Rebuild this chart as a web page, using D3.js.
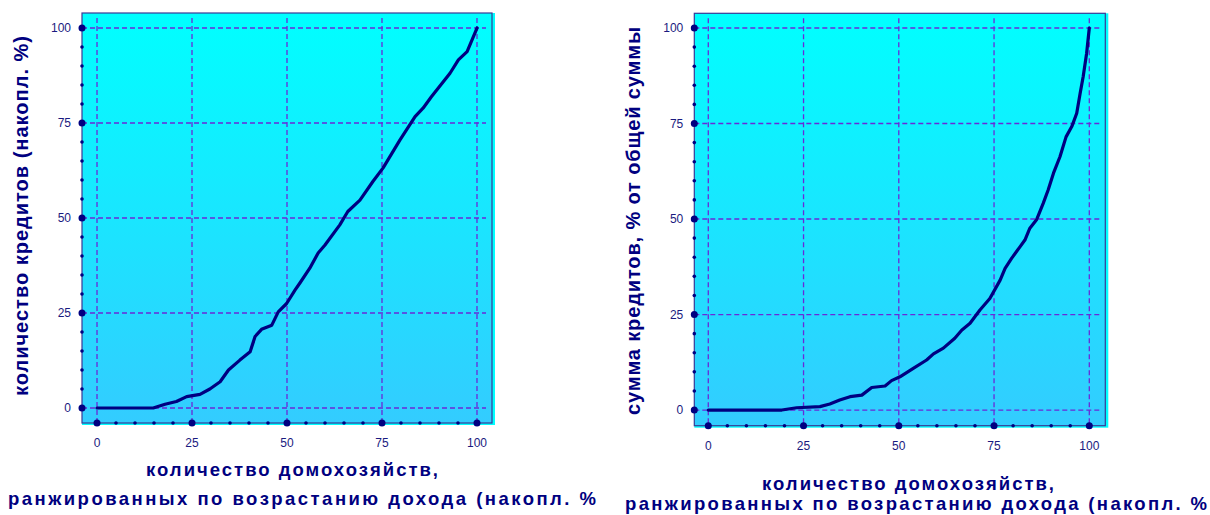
<!DOCTYPE html>
<html>
<head>
<meta charset="utf-8">
<script src="https://cdn.jsdelivr.net/npm/d3@7"></script>
<style>
  html, body { margin: 0; padding: 0; background: #ffffff; }
  svg { display: block; }
  text { font-family: "Liberation Sans", Arial, sans-serif; }
</style>
</head>
<body>
<svg id="chart" width="1210" height="515"></svg>
<script>
// ---- data ----
const tickValues = [0, 25, 50, 75, 100];
const minorTickValues = d3.range(0, 101, 5);

// cumulative share of households (x) vs cumulative count of credits (y)
const countX = [0, 14.8, 17.9, 20.9, 23.6, 27.1, 29.7, 32.4, 34.6, 37.6, 40.3, 41.6, 43.3, 46, 47.7, 49.9, 52.1, 53.4, 56, 58.2, 60, 63.9, 66, 69.2, 72.6, 75.3, 79.7, 83.7, 85.8, 88, 92.9, 95.1, 97.4, 100];
const countY = [0, 0, 1.0, 1.7, 3.0, 3.6, 5.0, 6.9, 10, 12.6, 14.8, 18.8, 20.7, 21.8, 25.3, 27.5, 31, 32.9, 36.8, 40.8, 42.9, 48.2, 51.7, 54.7, 59.6, 63.2, 70.5, 76.7, 78.9, 81.9, 88.1, 91.6, 93.8, 100];

// cumulative share of households (x) vs cumulative sum of credits (y)
const sumX = [0, 19.3, 23.2, 29.3, 31.9, 34.5, 37.2, 40.3, 42.9, 46.4, 48.1, 50.3, 53.8, 57.3, 59.1, 61.7, 64.7, 66.5, 68.7, 71.3, 73.9, 76.6, 77.9, 79.6, 81.8, 83.1, 84.4, 86.2, 87.9, 89.2, 90.6, 92.3, 93.9, 95.4, 96.7, 97.6, 98.4, 99.3, 100];
const sumY = [0, 0, 0.6, 0.9, 1.6, 2.6, 3.5, 3.9, 5.9, 6.3, 7.7, 8.7, 10.9, 13.1, 14.7, 16.2, 18.8, 20.9, 22.7, 26.2, 29.2, 34, 37.1, 39.7, 42.7, 44.5, 47.6, 49.9, 54.1, 57.6, 62, 66.3, 71.5, 74.2, 77.7, 82.9, 87.3, 93.4, 100];

const yTitles = ["количество кредитов (накопл. %)", "сумма кредитов, % от общей суммы"];
const xTitleLines = ["количество домохозяйств,", "ранжированных по возрастанию дохода (накопл. %"];

// ---- layout ----
const panels = [
  { xs: countX, ys: countY, yTitle: yTitles[0], yTitleLen: 360,
    xDom: [-3.95, 103.95], xRange: [82, 492], yDom: [-3.95, 103.95], yRange: [423, 13],
    yTitleX: 28, yTitleY: 216, xTitleCx: 292, xTitleY1: 476, xTitleY2: 505, line2Start: 8, line2Len: 588 },
  { xs: sumX, ys: sumY, yTitle: yTitles[1], yTitleLen: 388,
    xDom: [-3.67, 104.2], xRange: [694.3, 1105.3], yDom: [-4.1, 103.85], yRange: [425.7, 13.3],
    yTitleX: 640, yTitleY: 221, xTitleCx: 908, xTitleY1: 490, xTitleY2: 510, line2Start: 625, line2Len: 582 }
];

const svg = d3.select("#chart");
const defs = svg.append("defs");
const grad = defs.append("linearGradient").attr("id", "bg").attr("x1", 0).attr("y1", 0).attr("x2", 0).attr("y2", 1);
grad.append("stop").attr("offset", "0%").attr("stop-color", "#00ffff");
grad.append("stop").attr("offset", "100%").attr("stop-color", "#33ccff");

const navy = "#000080";
const textCol = "#1a1a80";
const gridCol = "#6a2ad8";

panels.forEach((p, i) => {
  const x = d3.scaleLinear().domain(p.xDom).range(p.xRange);
  const y = d3.scaleLinear().domain(p.yDom).range(p.yRange);
  const g = svg.append("g");
  const x0 = p.xRange[0], x1 = p.xRange[1], yT = p.yRange[1], yB = p.yRange[0];

  // cyan shadow strip
  g.append("rect").attr("x", x0).attr("y", yT).attr("width", x1 - x0 + 3).attr("height", yB - yT + 2)
    .attr("fill", "#00ffff");
  // plot background
  g.append("rect").attr("x", x0).attr("y", yT).attr("width", x1 - x0).attr("height", yB - yT)
    .attr("fill", "url(#bg)");

  // grid lines
  g.selectAll(".hg").data(tickValues).join("line")
    .attr("x1", x0).attr("x2", x1 - 6)
    .attr("y1", d => y(d)).attr("y2", d => y(d))
    .attr("stroke", gridCol).attr("stroke-width", 1.3).attr("stroke-dasharray", "5,3");
  g.selectAll(".vg").data(tickValues).join("line")
    .attr("x1", d => x(d)).attr("x2", d => x(d))
    .attr("y1", yT + 5).attr("y2", yB)
    .attr("stroke", gridCol).attr("stroke-width", 1.3).attr("stroke-dasharray", "5,3");

  // frame
  g.append("rect").attr("x", x0).attr("y", yT).attr("width", x1 - x0).attr("height", yB - yT)
    .attr("fill", "none").attr("stroke", "#3a3a96").attr("stroke-width", 1.2);

  // curve
  const pts = p.xs.map((v, k) => [v, p.ys[k]]);
  g.append("path").datum(pts)
    .attr("d", d3.line().x(d => x(d[0])).y(d => y(d[1])))
    .attr("fill", "none").attr("stroke", navy).attr("stroke-width", 3.2)
    .attr("stroke-linejoin", "round").attr("stroke-linecap", "round");

  // axis dots (y axis on the left edge, x axis on the bottom edge)
  g.selectAll(".ydot").data(minorTickValues).join("circle")
    .attr("cx", x0).attr("cy", d => y(d))
    .attr("r", d => tickValues.includes(d) ? 3.5 : 1.8).attr("fill", navy);
  g.selectAll(".xdot").data(minorTickValues).join("circle")
    .attr("cx", d => x(d)).attr("cy", yB)
    .attr("r", d => tickValues.includes(d) ? 3.5 : 1.8).attr("fill", navy);

  // tick labels
  g.selectAll(".yl").data(tickValues).join("text")
    .attr("x", x0 - 11).attr("y", d => y(d)).attr("dy", "0.35em")
    .attr("text-anchor", "end").attr("font-size", 12).attr("fill", textCol)
    .text(d => d);
  g.selectAll(".xl").data(tickValues).join("text")
    .attr("x", d => x(d)).attr("y", yB + 20).attr("dy", "0.35em")
    .attr("text-anchor", "middle").attr("font-size", 12).attr("fill", textCol)
    .text(d => d);

  // y title
  g.append("text")
    .attr("transform", `translate(${p.yTitleX},${p.yTitleY}) rotate(-90)`)
    .attr("text-anchor", "middle").attr("font-size", 20).attr("font-weight", "bold")
    .attr("fill", navy).attr("textLength", p.yTitleLen).attr("lengthAdjust", "spacing")
    .text(p.yTitle);

  // x title
  g.append("text").attr("x", p.xTitleCx).attr("y", p.xTitleY1)
    .attr("text-anchor", "middle").attr("font-size", 18.5).attr("font-weight", "bold")
    .attr("fill", navy).attr("textLength", 292).attr("lengthAdjust", "spacing")
    .text(xTitleLines[0]);
  g.append("text").attr("x", p.line2Start).attr("y", p.xTitleY2)
    .attr("text-anchor", "start").attr("font-size", 18.5).attr("font-weight", "bold")
    .attr("fill", navy).attr("textLength", p.line2Len).attr("lengthAdjust", "spacing")
    .text(xTitleLines[1]);
});
</script>
</body>
</html>
